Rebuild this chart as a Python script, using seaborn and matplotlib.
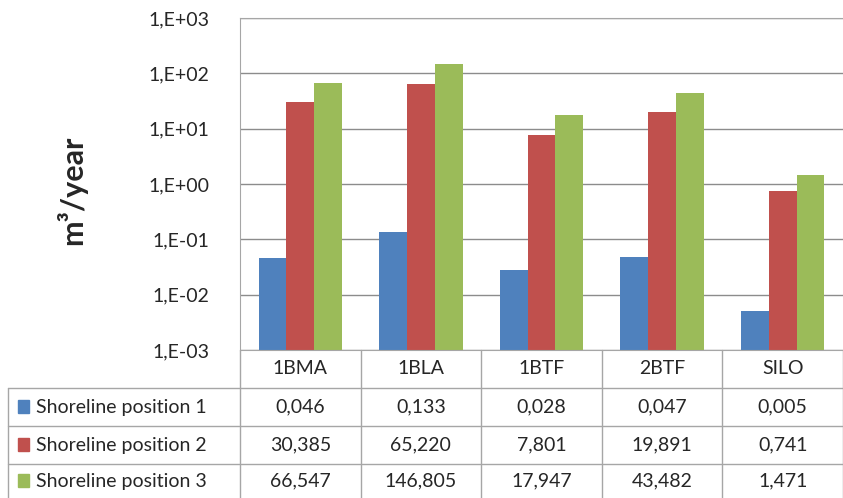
import numpy as np
import pandas as pd
import seaborn as sns
import matplotlib.pyplot as plt
from matplotlib.lines import Line2D
from matplotlib.patches import Rectangle

# data
sites = ['1BMA', '1BLA', '1BTF', '2BTF', 'SILO']
series = ['Shoreline position 1', 'Shoreline position 2', 'Shoreline position 3']
pos1 = [0.046, 0.133, 0.028, 0.047, 0.005]
pos2 = [30.385, 65.220, 7.801, 19.891, 0.741]
pos3 = [66.547, 146.805, 17.947, 43.482, 1.471]
colors = ['#4F81BD', '#C0504D', '#9BBB59']
yticks = [1e-3, 1e-2, 1e-1, 1e0, 1e1, 1e2, 1e3]
ytick_labels = ['1,E-03', '1,E-02', '1,E-01', '1,E+00', '1,E+01', '1,E+02', '1,E+03']

df = pd.DataFrame({
    'site': sites * 3,
    'series': np.repeat(series, len(sites)),
    'value': pos1 + pos2 + pos3,
})

sns.set_style('white')
plt.rcParams['font.family'] = ['Lato', 'DejaVu Sans']
fs = 14

W, H = 843, 498
fig = plt.figure(figsize=(W / 100, H / 100), dpi=100)

x0, x1 = 240, 843
ytop, ybot = 18, 350
ax = fig.add_axes([x0 / W, 1 - ybot / H, (x1 - x0) / W, (ybot - ytop) / H])

sns.barplot(data=df, x='site', y='value', hue='series', palette=colors,
            width=0.69, ax=ax, legend=False, saturation=1, linewidth=0)
ax.set_yscale('log')
ax.set_ylim(1e-3, 1e3)
ax.set_xlim(-0.5, 4.5)
ax.set_yticks(yticks)
ax.set_yticklabels(ytick_labels, fontsize=fs)
ax.minorticks_off()
ax.yaxis.grid(True, color='#8c8c8c', linewidth=1)
ax.set_axisbelow(True)
ax.set_xticks([])
ax.set_xlabel('')
ax.set_ylabel('')
ax.tick_params(axis='y', length=0, pad=22)
for s in ['left', 'top', 'bottom']:
    ax.spines[s].set_color('#a6a6a6')
ax.spines['right'].set_visible(False)

fig.text(72 / W, 1 - 190 / H, 'm³/year', rotation=90, fontsize=22,
         fontweight='bold', ha='center', va='center')

# data table below the plot
col_edges = np.linspace(x0, x1, len(sites) + 1)
row_edges = [350, 388, 426, 464, 502]
lc = '#a6a6a6'

def fx(px):
    return px / W

def fy(py):
    return 1 - py / H

for cx in col_edges:
    fig.add_artist(Line2D([fx(cx), fx(cx)], [fy(350), fy(502)], color=lc, lw=1))
fig.add_artist(Line2D([fx(8), fx(8)], [fy(388), fy(502)], color=lc, lw=1))
for ry in row_edges[1:]:
    fig.add_artist(Line2D([fx(8), fx(x1)], [fy(ry), fy(ry)], color=lc, lw=1))

for i, site in enumerate(sites):
    cx = (col_edges[i] + col_edges[i + 1]) / 2
    fig.text(fx(cx), fy(369), site, ha='center', va='center', fontsize=fs)

table_vals = [pos1, pos2, pos3]
row_centers = [407, 445, 481]
for r, (name, vals) in enumerate(zip(series, table_vals)):
    cy = row_centers[r]
    fig.add_artist(Rectangle((fx(18), fy(cy + 6)), 11 / W, 13 / H,
                             color=colors[r], transform=fig.transFigure))
    fig.text(fx(36), fy(cy), name, ha='left', va='center', fontsize=fs)
    for i, v in enumerate(vals):
        cx = (col_edges[i] + col_edges[i + 1]) / 2
        fig.text(fx(cx), fy(cy), f'{v:.3f}'.replace('.', ','),
                 ha='center', va='center', fontsize=fs)

fig.savefig('out.png', dpi=100)
